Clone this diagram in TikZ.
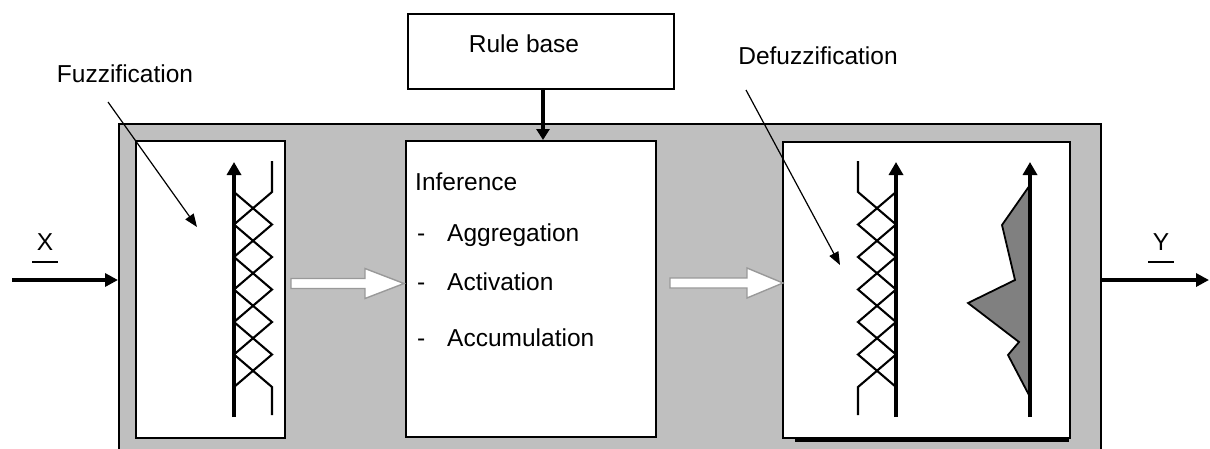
\documentclass[tikz,border=0pt]{standalone}
\usepackage{fontspec}
\setmainfont{Liberation Sans}
\usetikzlibrary{arrows.meta,calc}
\begin{document}
\begin{tikzpicture}[x=1pt,y=-1pt,
 box/.style={draw=black,line width=2pt,fill=white,anchor=north west,inner sep=0pt},
 lbl/.style={font=\fontsize{24.5}{28}\selectfont,inner sep=0pt},
 axis/.style={line width=4.2pt,-{Triangle[length=13pt,width=14pt]}},
 mf/.style={line width=2.1pt,line join=miter},
 iofl/.style={line width=3.8pt,-{Triangle[length=13pt,width=13pt]}},
 pointer/.style={line width=1.2pt,-{Triangle[length=13pt,width=10pt]}},
 hollow/.style={draw=gray!80,line width=1.4pt,fill=white,line join=miter}]
\useasboundingbox (0,0) rectangle (1210,448);
\clip (0,0) rectangle (1210,448);
\fill[white] (0,0) rectangle (1210,448);
% system (gray) box
\node[box,fill=gray!50,minimum width=982pt,minimum height=345pt] (sys) at (118,123) {};
% rule base
\node[box,minimum width=266pt,minimum height=75pt] (rule) at (407,13) {};
\node[lbl,anchor=base] (ruletxt) at (524,52) {Rule base};
% inner boxes
\node[box,minimum width=149pt,minimum height=297pt] (fz) at (135,140) {};
\node[box,minimum width=250pt,minimum height=296pt] (inf) at (405,140) {};
\fill[black] (795,436) rectangle (1069,442);
\node[box,minimum width=287pt,minimum height=296pt] (dfz) at (782,141) {};
% rule arrow
\coordinate (ra) at ($(rule.south)+(2,0)$);
\draw[line width=3.2pt,-{Triangle[length=11pt,width=13pt]}] (ra) -- (ra |- inf.north);
% inference text
\node[lbl,anchor=base west] (t0) at (415,190) {Inference};
\node[lbl,anchor=base west] (d1) at (417,241) {-};
\node[lbl,anchor=base west] (t1) at (447,241) {Aggregation};
\node[lbl,anchor=base west] (d2) at (417,290) {-};
\node[lbl,anchor=base west] (t2) at (447,290) {Activation};
\node[lbl,anchor=base west] (d3) at (417,346) {-};
\node[lbl,anchor=base west] (t3) at (447,346) {Accumulation};
% labels with pointers
\node[lbl,anchor=base] (fzl) at (125,82) {Fuzzification};
\coordinate (fzp) at (197,227);
\draw[pointer] (108,102) -- (fzp);
\node[lbl,anchor=base] (dfzl) at (818,64) {Defuzzification};
\coordinate (dfzp) at (840,265);
\draw[pointer] (746,90) -- (dfzp);
% input / output
\coordinate (xin) at (12,280);
\draw[iofl] (xin) -- (sys.west |- xin);
\node[lbl,anchor=base] (xl) at (45,250) {X};
\draw[line width=1.8pt] ($(xl.base)+(-13,12)$) -- ++(26,0);
\coordinate (yout) at (1209,280);
\draw[iofl] (sys.east |- yout) -- (yout);
\node[lbl,anchor=base] (yl) at (1161,250) {Y};
\draw[line width=1.8pt] ($(yl.base)+(-13,12)$) -- ++(26,0);
% hollow arrows
\draw[hollow] ($(fz.east)+(5,-11)$) -- ++(74,0) -- ++(0,-10) -- ++(39,15) -- ++(-39,15) -- ++(0,-10) -- ++(-74,0) -- cycle;
\draw[hollow] ($(inf.east)+(13,-11)$) -- ++(77,0) -- ++(0,-10) -- ++(36,15) -- ++(-36,15) -- ++(0,-10) -- ++(-77,0) -- cycle;
% fuzzification membership functions
\draw[mf] (272,161) -- (272,192) -- (234,224.5) -- (272,257) -- (234,289.5) -- (272,322) -- (234,354.5) -- (272,387) -- (272,415);
\draw[mf] (234,192) -- (272,224.5) -- (234,257) -- (272,289.5) -- (234,322) -- (272,354.5) -- (234,387);
\draw[axis] (234,417) -- (234,162);
% defuzzification membership functions
\draw[mf] (858,161) -- (858,192) -- (896,224.5) -- (858,257) -- (896,289.5) -- (858,322) -- (896,354.5) -- (858,387) -- (858,415);
\draw[mf] (896,192) -- (858,224.5) -- (896,257) -- (858,289.5) -- (896,322) -- (858,354.5) -- (896,387);
\draw[axis] (896,417) -- (896,162);
% output fuzzy set
\draw[line width=1.8pt,fill=gray,line join=miter] (1030,185) -- (1002,225) -- (1015,280) -- (968,303) -- (1019,342) -- (1008,355) -- (1030,397) -- cycle;
\draw[axis] (1030,417) -- (1030,162);
\end{tikzpicture}
\end{document}
